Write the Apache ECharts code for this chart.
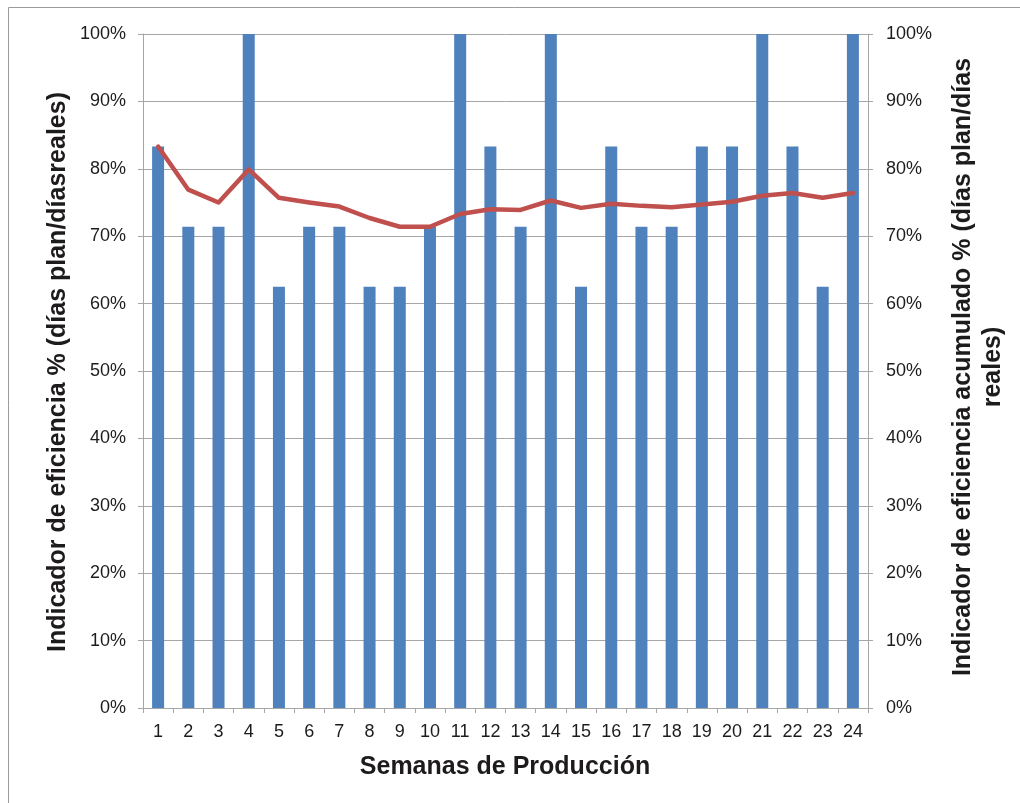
<!DOCTYPE html>
<html>
<head>
<meta charset="utf-8">
<script src="https://cdn.jsdelivr.net/npm/echarts@6/dist/echarts.min.js"></script>
<style>
  html, body { margin: 0; padding: 0; background: #fff; }
  #chart { width: 1020px; height: 803px; }
</style>
</head>
<body>
<div id="chart"></div>
<script>
// Weeks of production
const semanas = ['1','2','3','4','5','6','7','8','9','10','11','12','13','14','15','16','17','18','19','20','21','22','23','24'];
// Weekly efficiency (%): planned days / real days
const eficienciaSemanal = [83.3, 71.4, 71.4, 100, 62.5, 71.4, 71.4, 62.5, 62.5, 71.4, 100, 83.3,
                           71.4, 100, 62.5, 83.3, 71.4, 71.4, 83.3, 83.3, 100, 83.3, 62.5, 100];
// Cumulative efficiency (%)
const eficienciaAcumulada = [83.3, 76.9, 75.0, 79.9, 75.7, 75.0, 74.4, 72.7, 71.4, 71.4, 73.3, 74.0,
                             73.9, 75.3, 74.2, 74.8, 74.5, 74.3, 74.7, 75.1, 76.0, 76.4, 75.7, 76.4];

const fontFam = 'Liberation Sans, Arial, sans-serif';
const textCol = '#1e1b1c';
const gridCol = '#a6a6a6';

const chart = echarts.init(document.getElementById('chart'), null, { renderer: 'canvas' });

const yAxisCommon = {
  type: 'value',
  min: 0,
  max: 100,
  interval: 10,
  axisLine: { show: true, lineStyle: { color: gridCol, width: 1 } },
  axisTick: { show: true, length: 5, lineStyle: { color: gridCol } },
  axisLabel: { color: textCol, fontSize: 18, fontFamily: fontFam, formatter: '{value}%' }
};

chart.setOption({
  animation: false,
  backgroundColor: '#fff',
  grid: { left: 143, right: 152, top: 34, bottom: 95, containLabel: false },
  xAxis: {
    type: 'category',
    data: semanas,
    boundaryGap: true,
    axisLine: { show: true, lineStyle: { color: gridCol, width: 1 } },
    axisTick: { show: true, length: 5, alignWithLabel: false, lineStyle: { color: gridCol } },
    axisLabel: { color: textCol, fontSize: 18, fontFamily: fontFam, margin: 15, interval: 0 }
  },
  yAxis: [
    Object.assign({}, yAxisCommon, {
      position: 'left',
      splitLine: { show: true, lineStyle: { color: gridCol, width: 1 } },
      axisLabel: Object.assign({}, yAxisCommon.axisLabel, { margin: 17 })
    }),
    Object.assign({}, yAxisCommon, {
      position: 'right',
      splitLine: { show: false },
      axisLabel: Object.assign({}, yAxisCommon.axisLabel, { margin: 18 })
    })
  ],
  series: [
    {
      name: 'Indicador de eficiencia',
      type: 'bar',
      yAxisIndex: 0,
      data: eficienciaSemanal,
      barWidth: 12,
      itemStyle: { color: '#4f81bd' }
    },
    {
      name: 'Indicador de eficiencia acumulado',
      type: 'line',
      yAxisIndex: 1,
      data: eficienciaAcumulada,
      showSymbol: false,
      symbol: 'none',
      lineStyle: { color: '#c0504d', width: 4.5, join: 'round', cap: 'round' },
      z: 5
    }
  ],
  graphic: [
    {
      type: 'polyline',
      shape: { points: [[8.5, 803], [8.5, 7.5], [1020, 7.5]] },
      style: { stroke: '#9a9a9a', lineWidth: 1, fill: null },
      silent: true
    },
    {
      type: 'text',
      x: 58, y: 372,
      rotation: Math.PI / 2,
      style: {
        text: 'Indicador de eficiencia % (días plan/díasreales)',
        font: 'bold 25px ' + fontFam,
        fill: textCol,
        align: 'center',
        verticalAlign: 'middle'
      }
    },
    {
      type: 'text',
      x: 978, y: 367,
      rotation: Math.PI / 2,
      style: {
        text: 'Indicador de eficiencia acumulado % (días plan/días\nreales)',
        font: 'bold 25px ' + fontFam,
        fill: textCol,
        align: 'center',
        verticalAlign: 'middle',
        lineHeight: 30
      }
    },
    {
      type: 'text',
      x: 505, y: 767,
      style: {
        text: 'Semanas de Producción',
        font: 'bold 25px ' + fontFam,
        fill: textCol,
        align: 'center',
        verticalAlign: 'middle'
      }
    }
  ]
});
</script>
</body>
</html>
